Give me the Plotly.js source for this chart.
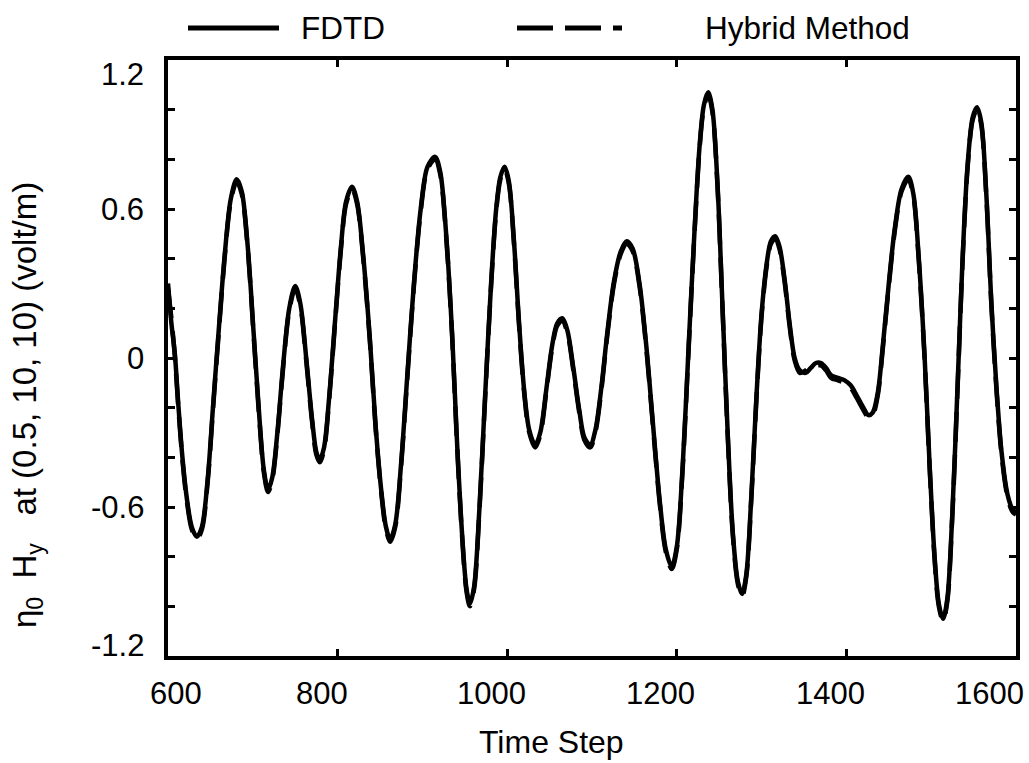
<!DOCTYPE html>
<html>
<head>
<meta charset="utf-8">
<script src="https://cdn.plot.ly/plotly-3.0.1.min.js"></script>
<style>
html,body{margin:0;padding:0;background:#fff;}
#chart{width:1029px;height:763px;}
</style>
</head>
<body>
<div id="chart"></div>
<script>
// ---- data ----
const timeSteps = [600,604,608,612,617,622,628,634,640,647,653,660,667,674,681,687,694,701,708,713,718,723,729,736,743,750,756,763,770,775,779,784,790,797,804,810,817,823,830,838,845,852,857,862,868,875,882,890,898,906,915,921,928,935,941,947,952,956,961,967,974,981,987,992,997,1002,1008,1014,1020,1026,1033,1039,1046,1053,1059,1065,1071,1078,1085,1091,1098,1104,1111,1118,1126,1134,1141,1148,1156,1164,1172,1180,1187,1194,1200,1207,1214,1221,1227,1232,1237,1242,1248,1254,1260,1266,1272,1277,1282,1288,1294,1300,1306,1311,1316,1321,1327,1333,1339,1345,1352,1358,1364,1370,1376,1382,1390,1398,1405,1412,1420,1426,1431,1437,1443,1450,1457,1465,1473,1479,1485,1492,1498,1504,1509,1514,1519,1525,1531,1537,1543,1549,1554,1559,1565,1571,1577,1583,1590,1596,1600];

const fdtd = [0.30,0.14,0.02,-0.18,-0.40,-0.56,-0.68,-0.72,-0.68,-0.48,-0.20,0.12,0.42,0.64,0.72,0.67,0.45,0.10,-0.25,-0.45,-0.53,-0.48,-0.30,-0.02,0.20,0.29,0.22,0.00,-0.25,-0.38,-0.41,-0.36,-0.16,0.15,0.45,0.63,0.69,0.63,0.42,0.08,-0.28,-0.55,-0.68,-0.73,-0.67,-0.42,-0.08,0.30,0.60,0.77,0.81,0.75,0.50,0.10,-0.35,-0.72,-0.93,-0.99,-0.92,-0.62,-0.15,0.30,0.60,0.73,0.77,0.71,0.47,0.14,-0.13,-0.29,-0.35,-0.30,-0.13,0.05,0.14,0.16,0.11,-0.04,-0.21,-0.32,-0.35,-0.29,-0.12,0.10,0.31,0.43,0.47,0.44,0.30,0.05,-0.27,-0.58,-0.77,-0.84,-0.76,-0.43,0.05,0.52,0.86,1.02,1.07,1.00,0.70,0.20,-0.30,-0.70,-0.90,-0.95,-0.87,-0.55,-0.15,0.18,0.38,0.47,0.49,0.45,0.32,0.14,0.00,-0.05,-0.06,-0.04,-0.02,-0.02,-0.04,-0.07,-0.08,-0.09,-0.11,-0.15,-0.20,-0.23,-0.22,-0.14,0.05,0.30,0.52,0.68,0.73,0.66,0.42,0.02,-0.42,-0.80,-0.99,-1.05,-0.97,-0.62,-0.12,0.40,0.78,0.97,1.01,0.95,0.66,0.22,-0.12,-0.38,-0.55,-0.61,-0.62];

const hybrid = [0.28,0.16,0.01,-0.19,-0.41,-0.57,-0.69,-0.73,-0.69,-0.49,-0.21,0.11,0.41,0.63,0.71,0.66,0.44,0.09,-0.26,-0.46,-0.54,-0.49,-0.31,-0.03,0.19,0.28,0.21,-0.01,-0.26,-0.39,-0.42,-0.37,-0.17,0.14,0.44,0.62,0.68,0.62,0.41,0.07,-0.29,-0.56,-0.69,-0.74,-0.68,-0.43,-0.09,0.29,0.59,0.76,0.80,0.74,0.49,0.09,-0.36,-0.73,-0.94,-1.00,-0.93,-0.63,-0.16,0.29,0.59,0.72,0.76,0.70,0.46,0.13,-0.14,-0.30,-0.36,-0.31,-0.14,0.04,0.13,0.15,0.10,-0.05,-0.22,-0.33,-0.36,-0.30,-0.13,0.09,0.30,0.42,0.46,0.43,0.29,0.04,-0.28,-0.59,-0.78,-0.85,-0.77,-0.44,0.04,0.51,0.85,1.01,1.06,0.99,0.69,0.19,-0.31,-0.71,-0.91,-0.96,-0.88,-0.56,-0.16,0.17,0.37,0.46,0.48,0.44,0.31,0.13,-0.01,-0.06,-0.05,-0.03,-0.03,-0.03,-0.05,-0.08,-0.09,-0.10,-0.12,-0.16,-0.21,-0.24,-0.23,-0.15,0.04,0.29,0.51,0.67,0.72,0.65,0.41,0.01,-0.43,-0.81,-1.00,-1.06,-0.98,-0.63,-0.13,0.39,0.77,0.96,1.00,0.94,0.65,0.21,-0.13,-0.39,-0.56,-0.62,-0.63];

const seriesNames = ["FDTD", "Hybrid Method"];
const xTickValues = [600, 800, 1000, 1200, 1400, 1600];
const yTickValues = [-1.2, -0.6, 0, 0.6, 1.2];
const xTitle = "Time Step";
const yTitle = "\u03b7<sub>0</sub>\u00a0 H<sub>y</sub>\u00a0\u00a0 at (0.5, 10, 10) (volt/m)";

// ---- chart ----
const FONT = "Liberation Sans, Arial, sans-serif";
const tickSize = 31, titleSize = 32, yTitleSize = 33, legendSize = 31.5;

const traces = [
  {x: timeSteps, y: fdtd, name: seriesNames[0], type: "scatter", mode: "lines",
   line: {color: "#000", width: 4.5, shape: "spline", smoothing: 0.9}},
  {x: timeSteps, y: hybrid, name: seriesNames[1], type: "scatter", mode: "lines",
   line: {color: "#000", width: 4.5, dash: "30px,13px", shape: "spline", smoothing: 0.9}}
];

const annotations = [];
const xMin = xTickValues[0], xMax = xTickValues[xTickValues.length - 1];
xTickValues.forEach(v => {
  let sh = -16;
  if (v === xMin) sh = 8;
  if (v === xMax) sh = -27;
  annotations.push({x: v, xref: "x", y: 0, yref: "paper", text: String(v),
    showarrow: false, xanchor: "center", yanchor: "middle", xshift: sh, yshift: -37,
    font: {family: FONT, size: tickSize, color: "#000"}});
});
const yMin = yTickValues[0], yMax = yTickValues[yTickValues.length - 1];
yTickValues.forEach(v => {
  let sh = 0;
  if (v === yMax) sh = -14;
  if (v === yMin) sh = 11;
  annotations.push({x: 0, xref: "paper", y: v, yref: "y", text: String(v),
    showarrow: false, xanchor: "right", yanchor: "middle", xshift: -22, yshift: sh,
    font: {family: FONT, size: tickSize, color: "#000"}});
});
// axis titles
annotations.push({x: 0.5, xref: "paper", y: 0, yref: "paper", text: xTitle, showarrow: false,
  xanchor: "center", yanchor: "middle", xshift: -41, yshift: -86,
  font: {family: FONT, size: titleSize, color: "#000"}});
annotations.push({x: 0, xref: "paper", y: 0.5, yref: "paper", text: yTitle, showarrow: false,
  textangle: -90, xanchor: "center", yanchor: "middle", xshift: -141, yshift: -47,
  font: {family: FONT, size: yTitleSize, color: "#000"}});
// legend labels
annotations.push({x: 0, xref: "paper", y: 1, yref: "paper", text: seriesNames[0], showarrow: false,
  xanchor: "left", yanchor: "middle", xshift: 131, yshift: 32,
  font: {family: FONT, size: legendSize, color: "#000"}});
annotations.push({x: 0, xref: "paper", y: 1, yref: "paper", text: seriesNames[1], showarrow: false,
  xanchor: "left", yanchor: "middle", xshift: 535, yshift: 32,
  font: {family: FONT, size: legendSize, color: "#000"}});

const L = 168, T = 60, R = 1029 - 1016, B = 763 - 656;
const W = 1029 - L - R, H = 763 - T - B;
const px = p => (p - L) / W;
const py = p => 1 - (p - T) / H;

const shapes = [
  {type: "line", xref: "paper", yref: "paper", x0: px(188), x1: px(279), y0: py(28), y1: py(28),
   line: {color: "#000", width: 5}},
  {type: "line", xref: "paper", yref: "paper", x0: px(517), x1: px(622), y0: py(28), y1: py(28),
   line: {color: "#000", width: 5, dash: "36px,12px"}}
];

const layout = {
  width: 1029, height: 763,
  margin: {l: L, r: R, t: T, b: B, pad: 0},
  paper_bgcolor: "#fff", plot_bgcolor: "#fff",
  showlegend: false,
  font: {family: FONT, size: tickSize, color: "#000"},
  xaxis: {range: [600, 1600], tick0: 600, dtick: 200, ticks: "inside", ticklen: 7, tickwidth: 3,
    tickcolor: "#000", showticklabels: false, showline: true, linecolor: "#000", linewidth: 4,
    mirror: "ticks", showgrid: false, zeroline: false},
  yaxis: {range: [-1.2, 1.2], tick0: -1.2, dtick: 0.2, ticks: "inside", ticklen: 7, tickwidth: 3,
    tickcolor: "#000", showticklabels: false, showline: true, linecolor: "#000", linewidth: 4,
    mirror: "ticks", showgrid: false, zeroline: false},
  annotations: annotations,
  shapes: shapes
};

Plotly.newPlot("chart", traces, layout, {staticPlot: true, displayModeBar: false});
</script>
</body>
</html>
